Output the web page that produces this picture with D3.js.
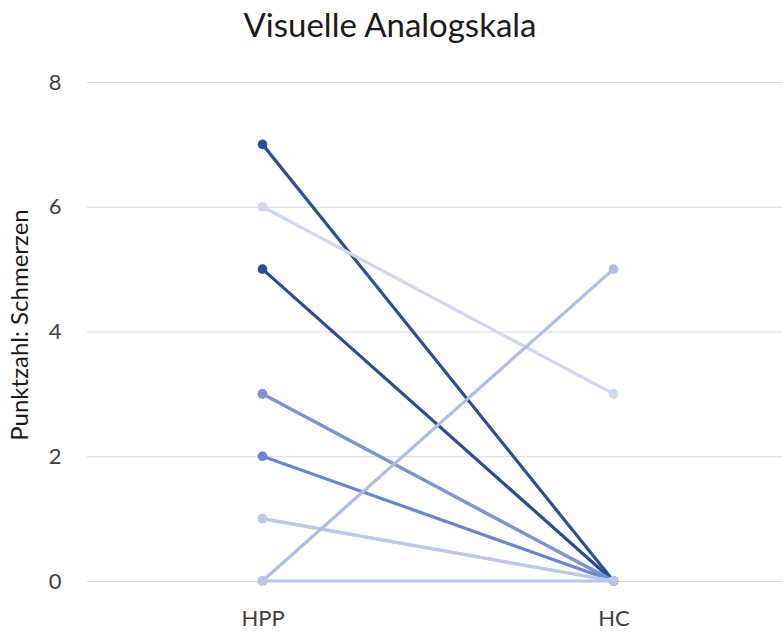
<!DOCTYPE html>
<html><head><meta charset="utf-8">
<script src="https://cdn.jsdelivr.net/npm/d3@7"></script>
<style>body{margin:0;background:#fff}svg{display:block}</style>
</head><body><svg id="c" width="782" height="633"></svg>
<script>
const categories = ["HPP", "HC"];
const seriesNames = ["P1","P2","P3","P4","P5","P6","P7","P8","P9","P10"];
const hppValues = [7, 5, 6, 3, 3, 2, 1, 1, 0, 0];
const hcValues  = [0, 0, 3, 0, 0, 0, 0, 0, 5, 0];
const seriesColors = ["#2E5090","#2B4D8C","#D0D8EE","#8A9ED6","#7F95D1","#6A86CC","#C9D1EC","#BDC8E8","#AEBDE3","#B8C5E7"];
const yTicks = [0, 2, 4, 6, 8];

const svg = d3.select("#c");
const font = "Lato, 'Open Sans', 'Liberation Sans', sans-serif";
const m = {left: 87, right: 789, top: 82, bottom: 581};

const x = d3.scalePoint().domain(categories).range([m.left, m.right]).padding(0.5);
const y = d3.scaleLinear().domain([0, 8]).range([m.bottom, m.top]);

// gridlines
const yAxis = d3.axisLeft(y).tickValues(yTicks).tickSize(-(m.right - m.left)).tickFormat(d3.format("d")).tickPadding(32);
const gy = svg.append("g").attr("transform", `translate(${m.left},0)`).call(yAxis);
gy.select(".domain").remove();
gy.selectAll(".tick line").attr("stroke", "#d9d9d9").attr("stroke-width", 1);
gy.selectAll(".tick text").attr("fill", "#404040").style("font-family", font).style("font-size", "22px").attr("text-anchor","middle");

// x axis labels
const xAxis = d3.axisBottom(x).tickSize(0).tickPadding(29);
const gx = svg.append("g").attr("transform", `translate(0,${m.bottom})`).call(xAxis);
gx.select(".domain").remove();
gx.selectAll(".tick text").attr("fill", "#404040").style("font-family", font).style("font-size", "22px");

// lines
const data = seriesNames.map((n, i) => ({name: n, color: seriesColors[i], values: [hppValues[i], hcValues[i]]}));
const line = d3.line().x((d, j) => x(categories[j])).y(d => y(d));
const g = svg.append("g");
data.forEach(s => {
  g.append("path").attr("d", line(s.values)).attr("fill","none").attr("stroke", s.color).attr("stroke-width", 3.2).attr("stroke-linecap","round");
  s.values.forEach((v, j) => {
    g.append("circle").attr("cx", x(categories[j])).attr("cy", y(v)).attr("r", 4.8).attr("fill", s.color);
  });
});

// title
svg.append("text").attr("x", 390).attr("y", 37).attr("text-anchor","middle").attr("fill","#1a1a1a")
  .style("font-family", font).style("font-size","33px").text("Visuelle Analogskala");

// y title
svg.append("text").attr("transform", `translate(28,325) rotate(-90)`).attr("text-anchor","middle").attr("fill","#1a1a1a")
  .style("font-family", font).style("font-size","24px").text("Punktzahl: Schmerzen");
</script></body></html>
